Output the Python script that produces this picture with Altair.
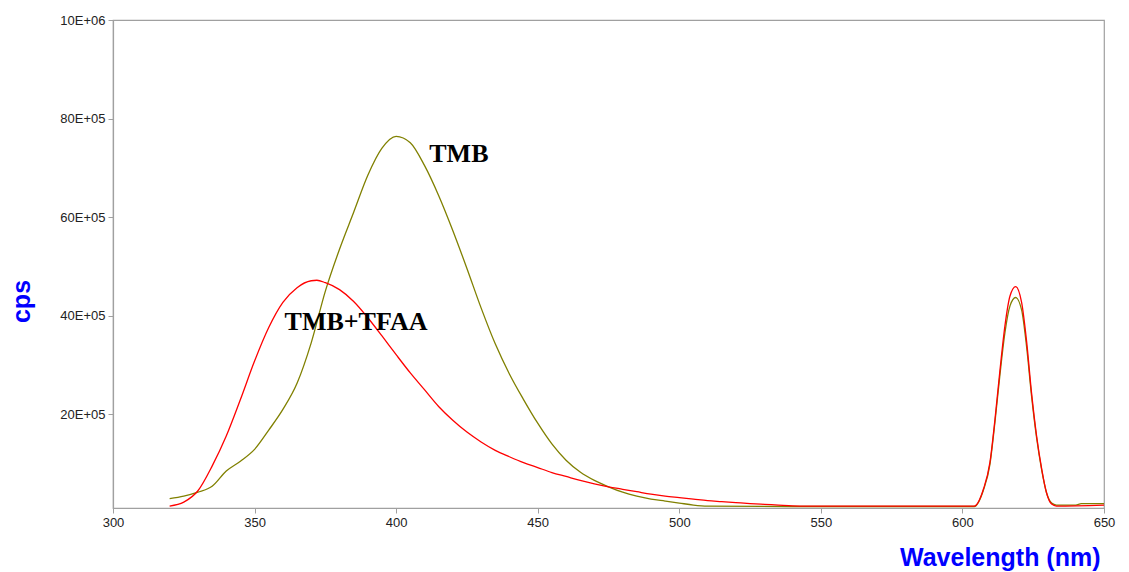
import altair as alt
import pandas as pd

# ---- data (cps in units of 1E+04) ----
tmb_nm = [320, 325, 330, 335, 340, 345, 350, 355, 360, 365, 370, 375, 380, 385,
          390, 395, 400, 405, 410, 415, 420, 425, 430, 435, 440, 445, 450, 455,
          460, 465, 470, 475, 480, 485, 490, 495, 500, 505, 510, 540, 570, 604.2,
          607.4, 609.7, 611.5, 613.3, 615, 616.8, 618.8, 620.9, 622.7, 624.4,
          626.2, 628, 629.7, 631.5, 633.2, 640, 642, 650]
tmb_cps = [2.9, 3.4, 4.2, 5.4, 8.5, 10.5, 12.9, 16.8, 21.0, 26.3, 34.5, 45.0,
           53.5, 61.0, 68.5, 74.0, 76.4, 75.1, 70.5, 64.4, 57.3, 49.6, 41.6,
           34.3, 28.2, 23.0, 18.2, 14.0, 10.7, 8.3, 6.6, 5.3, 4.2, 3.4, 2.8, 2.4,
           2.0, 1.6, 1.4, 1.3, 1.3, 1.3, 4.6, 9.8, 18.5, 28.3, 36.5, 42.0, 43.7,
           41.2, 33.5, 23.8, 15.2, 8.7, 4.1, 2.0, 1.6, 1.6, 1.9, 1.9]

tfaa_nm = [320, 325, 330, 335, 340, 345, 350, 355, 360, 365, 370, 372, 375, 380,
           385, 390, 395, 400, 405, 410, 415, 420, 425, 430, 435, 440, 445, 450,
           455, 460, 465, 470, 475, 480, 485, 490, 495, 500, 505, 510, 515, 520,
           525, 530, 535, 540, 545, 575, 604.2, 607.4, 609.7, 611.5, 613.3, 615,
           616.8, 618.8, 620.9, 622.7, 624.4, 626.2, 628, 629.7, 631.5, 633.2, 650]
tfaa_cps = [1.4, 2.2, 4.5, 9.5, 15.6, 23.0, 30.8, 37.6, 42.7, 45.7, 47.1, 47.2,
            46.7, 45.3, 42.9, 39.6, 35.9, 32.1, 28.4, 25.0, 21.6, 18.8, 16.4,
            14.4, 12.7, 11.4, 10.2, 9.2, 8.2, 7.4, 6.6, 5.9, 5.3, 4.8, 4.3, 3.8,
            3.4, 3.1, 2.8, 2.5, 2.3, 2.1, 1.9, 1.75, 1.6, 1.45, 1.4, 1.4, 1.4, 4.8,
            10.2, 19.0, 29.2, 37.9, 44.0, 45.9, 42.7, 34.6, 24.4, 15.6, 8.9, 4.1,
            1.8, 1.4, 1.6]

x_ticks = [300, 350, 400, 450, 500, 550, 600, 650]
y_ticks = [20, 40, 60, 80, 100]
y_tick_labels = ["20E+05", "40E+05", "60E+05", "80E+05", "10E+06"]

label_text = ["TMB", "TMB+TFAA"]
label_nm = [411.7, 360.6]
label_cps = [72.9, 38.8]

df_tmb = pd.DataFrame({"nm": tmb_nm, "cps": tmb_cps})
df_tfaa = pd.DataFrame({"nm": tfaa_nm, "cps": tfaa_cps})
df_lab = pd.DataFrame({"nm": label_nm, "cps": label_cps, "text": label_text})

label_expr = " : ".join(
    [f"datum.value == {v} ? '{t}'" for v, t in zip(y_ticks, y_tick_labels)]
) + " : ''"

AXIS_GRAY = "#A0A0A0"

x_enc = alt.X(
    "nm:Q",
    scale=alt.Scale(domain=[300, 650], nice=False, zero=False),
    axis=alt.Axis(
        values=x_ticks, title="Wavelength (nm)", grid=False,
        titleX=987, titleY=57, titleAlign="right", titleBaseline="alphabetic",
        labelFlush=False,
    ),
)
y_enc = alt.Y(
    "cps:Q",
    scale=alt.Scale(domain=[1, 100], nice=False, zero=False),
    axis=alt.Axis(
        values=y_ticks, labelExpr=label_expr, title="cps", grid=False,
        titleAngle=270, titleX=-84, titleY=281, titleAlign="center",
        titleBaseline="alphabetic", labelFlush=False,
    ),
)

tmb_line = alt.Chart(df_tmb).mark_line(
    color="#808000", strokeWidth=1.3, interpolate="monotone"
).encode(x=x_enc, y=y_enc)
tfaa_line = alt.Chart(df_tfaa).mark_line(
    color="#FF0000", strokeWidth=1.3, interpolate="monotone"
).encode(x="nm:Q", y="cps:Q")
labels = alt.Chart(df_lab).mark_text(
    font="Liberation Serif", fontWeight="bold", fontSize=26, color="#000000",
    align="left", baseline="middle",
).encode(x="nm:Q", y="cps:Q", text="text:N")

chart = (
    alt.layer(tmb_line, tfaa_line, labels)
    .properties(
        width=991, height=488,
        autosize=alt.AutoSizeParams(type="none"),
        padding={"left": 105, "top": 12, "right": 15, "bottom": 64},
        background="#FFFFFF",
    )
    .configure_view(stroke=AXIS_GRAY, strokeWidth=1.2)
    .configure_axis(
        domainColor=AXIS_GRAY, domainWidth=1.2, tickColor=AXIS_GRAY, tickSize=5,
        labelFont="Liberation Sans", labelFontSize=13, labelColor="#222222",
        labelPadding=3,
        titleFont="Liberation Sans", titleFontSize=25, titleFontWeight="bold",
        titleColor="#0000FF",
    )
)

chart.save("out.html", embed_options={"renderer": "svg", "actions": False})
